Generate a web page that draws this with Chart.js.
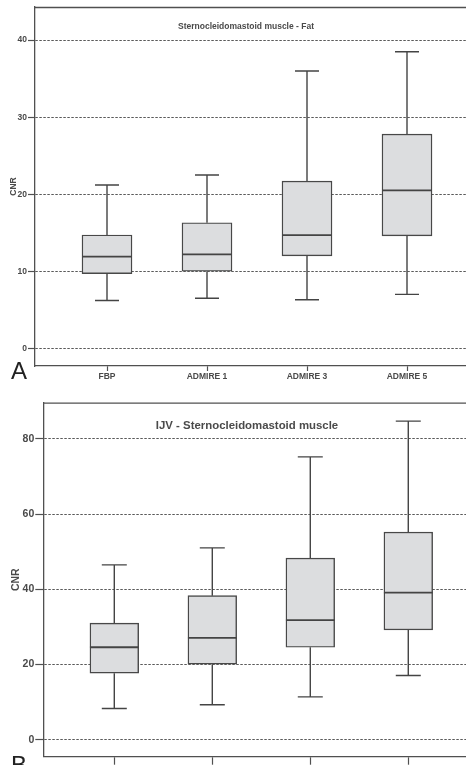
<!DOCTYPE html>
<html>
<head>
<meta charset="utf-8">
<script src="https://cdn.jsdelivr.net/npm/chart.js@4/dist/chart.umd.min.js"></script>
<style>
  html, body { margin:0; padding:0; width:466px; height:765px; overflow:hidden; background:#fff; }
  .wrap { position:absolute; left:0; width:466px; }
  .letter { position:absolute; font-family:"Liberation Sans", Arial, sans-serif; font-size:24px; color:#222; line-height:1; }
</style>
</head>
<body>
<div class="wrap" style="top:0;height:390px;"><canvas id="cA" width="466" height="390"></canvas></div>
<div class="wrap" style="top:390px;height:400px;"><canvas id="cB" width="466" height="400"></canvas></div>
<div class="letter" style="left:11px;top:359px;">A</div>
<div class="letter" style="left:11px;top:753px;">B</div>
<script>
// ---- data ----
const categories = ['FBP', 'ADMIRE 1', 'ADMIRE 3', 'ADMIRE 5'];
const positions = [1, 2, 3, 4];

// Panel A: Sternocleidomastoid muscle - Fat
const titleA = 'Sternocleidomastoid muscle - Fat';
const minA    = [6.2, 6.5, 6.3, 7.0];
const q1A     = [9.7, 10.0, 12.0, 14.6];
const medianA = [11.9, 12.2, 14.7, 20.5];
const q3A     = [14.7, 16.3, 21.7, 27.8];
const maxA    = [21.2, 22.5, 36.0, 38.5];
const yTicksA = [0, 10, 20, 30, 40];

// Panel B: IJV - Sternocleidomastoid muscle
const titleB = 'IJV - Sternocleidomastoid muscle';
const minB    = [8.3, 9.3, 11.4, 17.1];
const q1B     = [17.7, 20.1, 24.6, 29.2];
const medianB = [24.6, 27.1, 31.8, 39.1];
const q3B     = [31.0, 38.3, 48.3, 55.2];
const maxB    = [46.5, 51.0, 75.2, 84.7];
const yTicksB = [0, 20, 40, 60, 80];

const yLabel = 'CNR';
const FONT = '"Liberation Sans", Arial, sans-serif';
const TXT = '#4a4a4a';
const LINE = '#505050';

function makeChart(id, cfg) {
  const boxes = positions.map((p, i) => ({ x: p, y: [cfg.q1[i], cfg.q3[i]] }));
  const whiskerPlugin = {
    id: 'whiskers_' + id,
    beforeDatasetsDraw(chart) {
      const a = chart.chartArea, ctx = chart.ctx;
      ctx.save();
      ctx.strokeStyle = LINE; ctx.lineWidth = 1.3;
      ctx.beginPath(); ctx.moveTo(a.left, a.top + 0.5); ctx.lineTo(a.right, a.top + 0.5); ctx.stroke();
      ctx.restore();
    },
    afterDatasetsDraw(chart) {
      const xs = chart.scales.x, ys = chart.scales.y, ctx = chart.ctx;
      ctx.save();
      ctx.strokeStyle = '#444';
      positions.forEach((p, i) => {
        const x = xs.getPixelForValue(p);
        const yMin = ys.getPixelForValue(cfg.min[i]);
        const yQ1 = ys.getPixelForValue(cfg.q1[i]);
        const yMed = ys.getPixelForValue(cfg.median[i]);
        const yQ3 = ys.getPixelForValue(cfg.q3[i]);
        const yMax = ys.getPixelForValue(cfg.max[i]);
        ctx.lineWidth = 1.4;
        ctx.beginPath();
        ctx.moveTo(x, yQ3); ctx.lineTo(x, yMax);
        ctx.moveTo(x, yQ1); ctx.lineTo(x, yMin);
        ctx.moveTo(x - cfg.cap / 2, yMax); ctx.lineTo(x + cfg.cap / 2, yMax);
        ctx.moveTo(x - cfg.cap / 2, yMin); ctx.lineTo(x + cfg.cap / 2, yMin);
        ctx.stroke();
        ctx.lineWidth = 1.8;
        ctx.beginPath();
        ctx.moveTo(x - cfg.boxW / 2, yMed); ctx.lineTo(x + cfg.boxW / 2, yMed);
        ctx.stroke();
      });
      const a = chart.chartArea;
      ctx.fillStyle = TXT;
      ctx.font = 'bold ' + cfg.titleSize + 'px ' + FONT;
      ctx.textAlign = 'center'; ctx.textBaseline = 'middle';
      ctx.fillText(cfg.title, cfg.titleX, a.top + cfg.titleOff);
      ctx.restore();
    }
  };
  return new Chart(document.getElementById(id), {
    type: 'bar',
    data: {
      datasets: [{
        data: boxes,
        backgroundColor: '#dcdddf',
        borderColor: '#484848',
        borderWidth: 1.4,
        borderSkipped: false,
        barThickness: cfg.boxW
      }]
    },
    options: {
      responsive: false,
      animation: false,
      events: [],
      layout: { padding: { top: cfg.padTop, left: 0, right: 0, bottom: 0 } },
      plugins: { legend: { display: false }, tooltip: { enabled: false }, title: { display: false } },
      scales: {
        x: {
          type: 'linear',
          offset: false,
          min: cfg.xMin, max: cfg.xMax,
          afterBuildTicks: s => { s.ticks = positions.map(v => ({ value: v })); },
          afterFit: s => { s.height = cfg.xAxisH; },
          ticks: {
            display: cfg.xLabels,
            autoSkip: false, maxRotation: 0,
            padding: 1,
            color: TXT,
            font: { family: FONT, size: cfg.tickSize, weight: 'bold' },
            callback: (v) => categories[positions.indexOf(v)] || ''
          },
          grid: { offset: false, drawOnChartArea: false, drawTicks: true, tickLength: cfg.xTickLen, tickColor: LINE, tickWidth: 1.2 },
          border: { display: true, color: LINE, width: 1.3 }
        },
        y: {
          min: cfg.yMin, max: cfg.yMax,
          afterBuildTicks: s => { s.ticks = cfg.yTicks.map(v => ({ value: v })); },
          afterFit: s => { s.width = cfg.yAxisW; },
          ticks: {
            padding: 1,
            color: TXT,
            font: { family: FONT, size: cfg.tickSize, weight: 'bold' }
          },
          title: {
            display: true, text: yLabel, color: TXT,
            font: { family: FONT, size: cfg.tickSize, weight: 'bold' },
            padding: { top: cfg.titlePad, bottom: 0 }
          },
          grid: { color: '#5a5a5a', lineWidth: 1, drawTicks: true, tickLength: cfg.yTickLen, tickColor: LINE, tickWidth: 1.2, tickBorderDash: [] },
          border: { display: true, color: LINE, width: 1.3, dash: [2.5, 1.5] }
        }
      }
    },
    plugins: [whiskerPlugin]
  });
}

makeChart('cA', {
  min: minA, q1: q1A, median: medianA, q3: q3A, max: maxA, yTicks: yTicksA,
  title: titleA, titleSize: 8.5, titleX: 246, titleOff: 20,
  xMin: 0.28, xMax: 4.59, yMin: -2.3, yMax: 44.3,
  padTop: 7, xAxisH: 24, yAxisW: 35, xTickLen: 5, yTickLen: 7,
  tickSize: 8.5, titlePad: 9, xLabels: true,
  boxW: 50, cap: 24
});
makeChart('cB', {
  min: minB, q1: q1B, median: medianB, q3: q3B, max: maxB, yTicks: yTicksB,
  title: titleB, titleSize: 11.4, titleX: 247, titleOff: 23.3,
  xMin: 0.2755, xMax: 4.589, yMin: -4.5, yMax: 89.6,
  padTop: 12.7, xAxisH: 33.3, yAxisW: 43.3, xTickLen: 8, yTickLen: 8,
  tickSize: 10.5, titlePad: 10, xLabels: true,
  boxW: 48.7, cap: 25
});
</script>
</body>
</html>
